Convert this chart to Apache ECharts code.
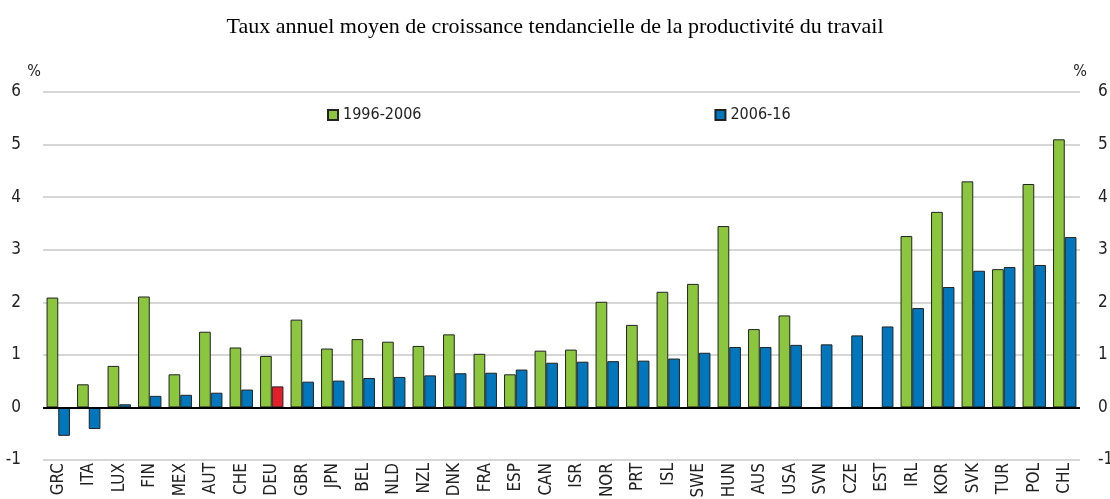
<!DOCTYPE html>
<html>
<head>
<meta charset="utf-8">
<script src="https://cdn.jsdelivr.net/npm/echarts@6/dist/echarts.min.js"></script>
<style>
html,body{margin:0;padding:0;background:#fff;}
#main{width:1110px;height:499px;}
</style>
</head>
<body>
<div id="main"></div>
<script>
var countries=['GRC','ITA','LUX','FIN','MEX','AUT','CHE','DEU','GBR','JPN','BEL','NLD','NZL','DNK','FRA','ESP','CAN','ISR','NOR','PRT','ISL','SWE','HUN','AUS','USA','SVN','CZE','EST','IRL','KOR','SVK','TUR','POL','CHL'];
var p1996=[2.09,0.44,0.79,2.11,0.63,1.44,1.14,0.98,1.67,1.12,1.30,1.25,1.17,1.39,1.02,0.63,1.08,1.10,2.01,1.57,2.20,2.35,3.45,1.49,1.75,null,null,null,3.26,3.72,4.30,2.63,4.25,5.10];
var p2006=[-0.54,-0.41,0.06,0.22,0.24,0.28,0.34,0.40,0.49,0.51,0.56,0.58,0.61,0.65,0.66,0.72,0.85,0.87,0.88,0.89,0.93,1.04,1.15,1.15,1.19,1.20,1.37,1.54,1.89,2.29,2.60,2.67,2.71,3.24];
var yTicks=[-1,0,1,2,3,4,5,6];
var highlight='DEU';

var font="'DejaVu Sans Condensed','Liberation Sans Narrow','Arial Narrow',sans-serif";
var green='#8cc63f',blue='#0077bd',red='#e3202a';

var myChart=echarts.init(document.getElementById('main'));
var blueData=p2006.map(function(v,i){
  if(countries[i]===highlight) return {value:v,itemStyle:{color:red}};
  return v;
});

var yAxisCommon={
  type:'value',min:yTicks[0],max:yTicks[yTicks.length-1],interval:1,
  axisLine:{show:false},axisTick:{show:false},
  axisLabel:{fontFamily:font,fontSize:17,color:'#222'},
  nameTextStyle:{fontFamily:font,fontSize:16,color:'#222'}
};

option={
  animation:false,
  title:{
    text:'Taux annuel moyen de croissance tendancielle de la productivité du travail',
    left:'center',top:11,
    textStyle:{fontFamily:"'Liberation Serif','Times New Roman',serif",fontWeight:'normal',fontSize:22,color:'#000'}
  },
  legend:{
    left:322,top:102,itemWidth:10,itemHeight:10,itemGap:293,
    textStyle:{fontFamily:font,fontSize:16,color:'#222'},
    data:[{name:'1996-2006',icon:'rect'},{name:'2006-16',icon:'rect'}]
  },
  grid:{left:43,right:30,top:92,bottom:39,containLabel:false,outerBoundsMode:'none'},
  xAxis:{
    type:'category',data:countries,position:'bottom',
    axisLine:{show:false,onZero:false},axisTick:{show:false},
    axisLabel:{rotate:90,interval:0,margin:3,fontFamily:font,fontSize:17,color:'#222'}
  },
  yAxis:[
    Object.assign({},yAxisCommon,{
      position:'left',name:'%',nameGap:12,
      nameTextStyle:Object.assign({},yAxisCommon.nameTextStyle,{padding:[0,18,0,0]}),
      axisLabel:Object.assign({},yAxisCommon.axisLabel,{margin:22}),
      splitLine:{lineStyle:{color:'#c8c8c8',width:1.5}}
    }),
    Object.assign({},yAxisCommon,{
      position:'right',name:'%',nameGap:12,
      nameTextStyle:Object.assign({},yAxisCommon.nameTextStyle,{padding:[0,0,0,0]}),
      axisLabel:Object.assign({},yAxisCommon.axisLabel,{margin:18}),
      splitLine:{show:false}
    })
  ],
  series:[
    {
      name:'1996-2006',type:'bar',data:p1996,barWidth:11.7,barGap:'0%',
      itemStyle:{color:green,borderColor:'#222',borderWidth:1}
    },
    {
      name:'2006-16',type:'bar',data:blueData,barWidth:11.7,barGap:'0%',
      itemStyle:{color:blue,borderColor:'#222',borderWidth:1},
      markLine:{
        silent:true,symbol:'none',label:{show:false},
        lineStyle:{color:'#000',width:2,type:'solid'},
        data:[{yAxis:0}]
      }
    }
  ]
};

myChart.setOption(option);
</script>
</body>
</html>
